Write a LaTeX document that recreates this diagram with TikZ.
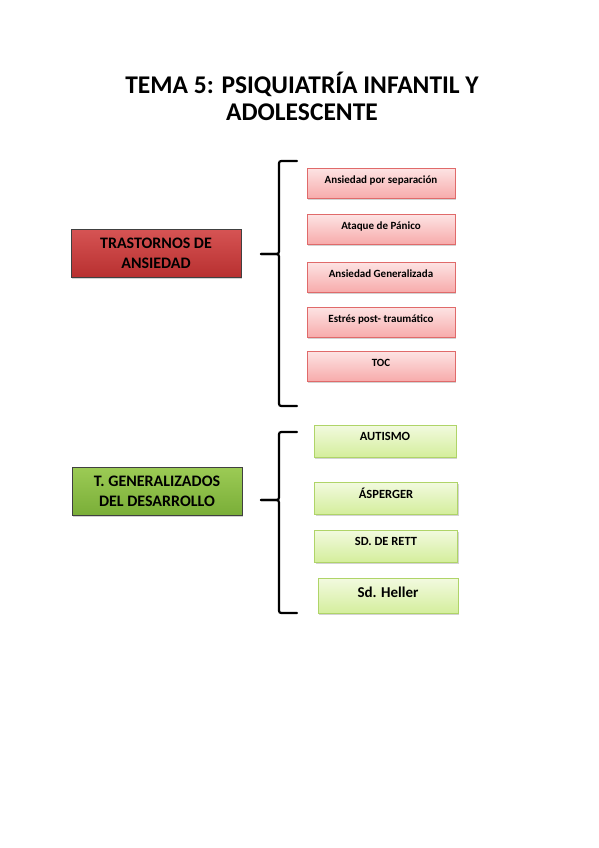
\documentclass[tikz,border=0pt]{standalone}
\usepackage{fontspec}
\setmainfont{Carlito}
\usetikzlibrary{shadows}

\definecolor{rojoarriba}{HTML}{D65454}
\definecolor{rojoabajo}{HTML}{B83030}
\definecolor{verdearriba}{HTML}{9CCB55}
\definecolor{verdeabajo}{HTML}{7AAE38}
\definecolor{rosaarriba}{HTML}{FDE4E4}
\definecolor{rosaabajo}{HTML}{F7ABAB}
\definecolor{rosaborde}{HTML}{E06A6A}
\definecolor{limaarriba}{HTML}{F2FADF}
\definecolor{limaabajo}{HTML}{D4EE9C}
\definecolor{limaborde}{HTML}{AFD468}

\tikzset{
  sombra/.style={drop shadow={shadow xshift=1.2pt,shadow yshift=-1.5pt,opacity=0.35}},
  grande/.style={sombra,draw=black!75,line width=0.8pt,minimum width=170pt,minimum height=48pt,
    align=center,font=\bfseries\fontsize{16}{20}\selectfont,inner sep=2pt},
  rojo/.style={grande,top color=rojoarriba,bottom color=rojoabajo},
  verde/.style={grande,top color=verdearriba,bottom color=verdeabajo},
  rosa/.style={sombra,draw=rosaborde,line width=0.6pt,minimum width=148pt,minimum height=30pt,
    top color=rosaarriba,bottom color=rosaabajo,font=\bfseries\fontsize{11}{13}\selectfont,text depth=6pt},
  lima/.style={sombra,draw=limaborde,line width=0.6pt,minimum width=142pt,minimum height=32pt,
    top color=limaarriba,bottom color=limaabajo,font=\bfseries\fontsize{12.5}{14}\selectfont,text depth=9pt},
  llave/.style={line width=2.2pt,line cap=round}
}

\begin{document}
\begin{tikzpicture}[x=1pt,y=-1pt]
  \useasboundingbox (0,0) rectangle (599,848);
  \node (titulo) at (302,96) [align=center,font=\bfseries\fontsize{25.5}{27}\selectfont]
    {TEMA 5: PSIQUIATRÍA INFANTIL Y\\ ADOLESCENTE};

  % trastornos de ansiedad
  \node (ansiedad) at (156,253) [rojo]{TRASTORNOS DE\\ ANSIEDAD};
  \draw [llave](297,161)--(284,161)..controls (279,161)..(279,166)--(279,249)
    ..controls (279,254)..(273,254)--(261,254);
  \draw [llave](261,254)--(273,254)..controls (279,254)..(279,259)--(279,401)
    ..controls (279,406)..(284,406)--(297,406);
  \node (separacion) at (381,183) [rosa]{Ansiedad por separación};
  \node (panico) at (381,229) [rosa]{Ataque de Pánico};
  \node (generalizada) at (381,277) [rosa]{Ansiedad Generalizada};
  \node (estres) at (381,322) [rosa]{Estrés post- traumático};
  \node (toc) at (381,366) [rosa]{TOC};

  % trastornos generalizados del desarrollo
  \node (desarrollo) at (157,491) [verde]{T. GENERALIZADOS\\ DEL DESARROLLO};
  \draw [llave](297,432)--(284,432)..controls (279,432)..(279,437)--(279,495)
    ..controls (279,500)..(273,500)--(261,500);
  \draw [llave](261,500)--(273,500)..controls (279,500)..(279,505)--(279,608)
    ..controls (279,613)..(284,613)--(297,613);
  \node (autismo) at (385,441) [lima]{AUTISMO};
  \node (asperger) at (386,498) [lima,minimum width=143pt]{ÁSPERGER};
  \node (rett) at (386,546) [lima,minimum width=143pt]{SD. DE RETT};
  \node (heller) at (388,596) [lima,minimum width=140pt,minimum height=35pt,
    font=\bfseries\fontsize{15}{17}\selectfont,text depth=7pt]{Sd. Heller};
\end{tikzpicture}
\end{document}
